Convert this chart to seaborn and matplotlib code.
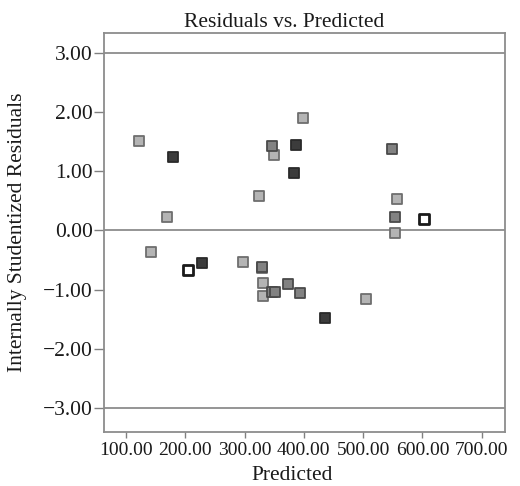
import matplotlib
matplotlib.use("Agg")
import matplotlib.pyplot as plt
import matplotlib.ticker as mticker
import seaborn as sns
import pandas as pd

# predicted values and internally studentized residuals, by marker shade
light_x = [122, 170, 142, 298, 325, 349, 398, 329, 331, 331, 557, 504, 553]
light_y = [1.51, 0.23, -0.37, -0.54, 0.58, 1.28, 1.91, -0.64, -0.89, -1.11, 0.54, -1.16, -0.04]
medium_x = [346, 330, 347, 352, 374, 394, 549, 553]
medium_y = [1.43, -0.61, -1.04, -1.04, -0.91, -1.06, 1.37, 0.23]
dark_x = [180, 228, 387, 383, 435]
dark_y = [1.24, -0.55, 1.44, 0.98, -1.48]
open_x = [205, 603]
open_y = [-0.67, 0.19]

x_ticks = [100, 200, 300, 400, 500, 600, 700]
y_ticks = [-3, -2, -1, 0, 1, 2, 3]
limits = [-3, 0, 3]

sns.set_theme(style="white")
plt.rcParams['font.family'] = ['Liberation Serif', 'DejaVu Serif']

fig = plt.figure(figsize=(5.2, 4.86), dpi=100)
ax = fig.add_axes([0.2, 0.111, 0.771, 0.821])

for v in limits:
    ax.axhline(v, color='#8c8c8c', linewidth=1.3, zorder=1)

groups = [
    (light_x, light_y, '#b4b4b4', '#6e6e6e', 1.3),
    (medium_x, medium_y, '#828282', '#4a4a4a', 1.3),
    (dark_x, dark_y, '#3c3c3c', '#2a2a2a', 1.3),
    (open_x, open_y, 'white', '#1a1a1a', 2.0),
]
for xs, ys, fc, ec, lw in groups:
    df = pd.DataFrame({'Predicted': xs, 'Residual': ys})
    sns.scatterplot(data=df, x='Predicted', y='Residual', marker='s', s=48,
                    color=fc, edgecolor=ec, linewidth=lw, ax=ax, zorder=3)

ax.set_xlim(63, 739)
ax.set_ylim(-3.41, 3.34)
ax.set_xticks(x_ticks)
ax.set_yticks(y_ticks)
fmt = mticker.FuncFormatter(lambda v, p: f"{v:.2f}".replace('-', '\u2212'))
ax.xaxis.set_major_formatter(fmt)
ax.yaxis.set_major_formatter(fmt)
ax.tick_params(axis='x', direction='out', length=4, width=1, color='#808080',
               labelsize=14, labelcolor='#1a1a1a', pad=3, bottom=True)
ax.tick_params(axis='y', direction='out', length=7, width=1, color='#808080',
               labelsize=15.5, labelcolor='#1a1a1a', pad=1, left=True)

for sp in ax.spines.values():
    sp.set_color('#8c8c8c')
    sp.set_linewidth(1.3)

ax.set_title('Residuals vs. Predicted', fontsize=15.5, color='#1a1a1a', pad=4, x=0.45)
ax.set_xlabel('Predicted', fontsize=15.5, color='#1a1a1a', labelpad=0)
ax.xaxis.set_label_coords(0.468, -0.085)
ax.set_ylabel('Internally Studentized Residuals', fontsize=15.5, color='#1a1a1a')
ax.yaxis.set_label_coords(-0.192, 0.5)

fig.savefig('out.png', dpi=100)
